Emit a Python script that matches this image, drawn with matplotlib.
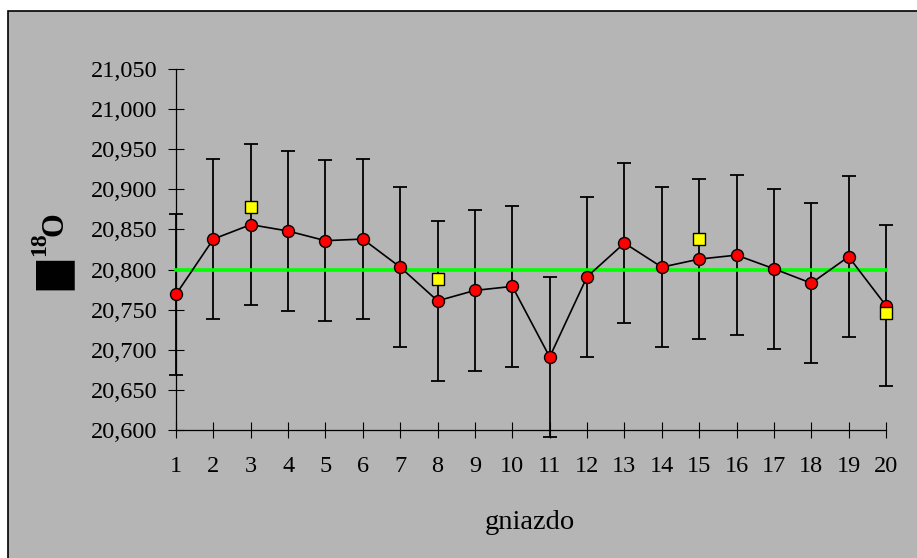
import matplotlib
matplotlib.use("Agg")
import matplotlib.pyplot as plt
from matplotlib.patches import Rectangle
from matplotlib.ticker import FuncFormatter
import numpy as np

# gniazdo 1..20, mean value with +/- error, reference points, overall mean
nests = list(range(1, 21))
means = [20.769, 20.838, 20.856, 20.848, 20.836, 20.838, 20.803, 20.761, 20.774, 20.779,
         20.691, 20.791, 20.833, 20.803, 20.813, 20.818, 20.801, 20.783, 20.816, 20.755]
errors = [0.1] * 20
ref_nests = [3, 8, 15, 20]
ref_values = [20.878, 20.788, 20.838, 20.746]
overall_mean = 20.8
y_ticks = np.arange(20.60, 21.0501, 0.05)

plt.rcParams['font.family'] = ['Liberation Serif', 'DejaVu Sans']

W, H = 917, 558
fig = plt.figure(figsize=(W / 100, H / 100), dpi=100, facecolor='white')

# gray chart area with black border on top/left
bg = Rectangle((8 / W, -0.1), 1.2, 1.1 - 11 / H, transform=fig.transFigure,
               facecolor='#b5b5b5', edgecolor='black', linewidth=1.2, zorder=-10)
fig.patches.append(bg)

ax = fig.add_axes([176 / W, (H - 430) / H, (886 - 176) / W, (430 - 69) / H])
ax.set_zorder(1)
ax.set_facecolor('none')
ax.set_xlim(1, 20)
ax.set_ylim(20.6, 21.05)

ax.errorbar(nests, means, yerr=errors, fmt='none', ecolor='black', elinewidth=1.3,
            capsize=5.2, capthick=1.3, zorder=2, clip_on=False)
ax.plot([nests[0], nests[-1]], [overall_mean, overall_mean], color='#00ff00', lw=2.6,
        zorder=3, clip_on=False)
ax.plot(nests, means, color='black', lw=1.2, marker='o', markersize=8.6,
        markerfacecolor='#ff0000', markeredgecolor='black', markeredgewidth=1.0,
        zorder=4, clip_on=False)
ax.plot(ref_nests, ref_values, ls='none', marker='s', markersize=8.4,
        markerfacecolor='#ffff00', markeredgecolor='black', markeredgewidth=1.0,
        zorder=5, clip_on=False)

for s in ['top', 'right']:
    ax.spines[s].set_visible(False)
for s in ['left', 'bottom']:
    ax.spines[s].set_linewidth(0.9)

ax.set_xticks(nests)
ax.set_yticks(y_ticks)
ax.yaxis.set_major_formatter(FuncFormatter(lambda v, p: f"{v:.3f}".replace('.', ',')))
ax.tick_params(axis='both', direction='inout', length=11, width=0.8, labelsize=17.5)
ax.tick_params(axis='y', pad=8)
ax.tick_params(axis='x', pad=13)

fig.text(530 / W, 1 - 529 / H, 'gniazdo', ha='center', va='baseline', fontsize=20.5)

# y axis label: missing-glyph box, superscript 18, O (rotated)
fig.text(56 / W, 1 - 275.5 / H, '\u2588', rotation=90, ha='center', va='center',
         fontsize=27, family='DejaVu Sans', color='black')
fig.text(40 / W, 1 - 244 / H, '18', rotation=90, ha='center', va='center',
         fontsize=17, fontweight='bold')
fig.text(55 / W, 1 - 224 / H, 'O', rotation=90, ha='center', va='center',
         fontsize=22, fontweight='bold')

fig.savefig('out.png', dpi=100)
